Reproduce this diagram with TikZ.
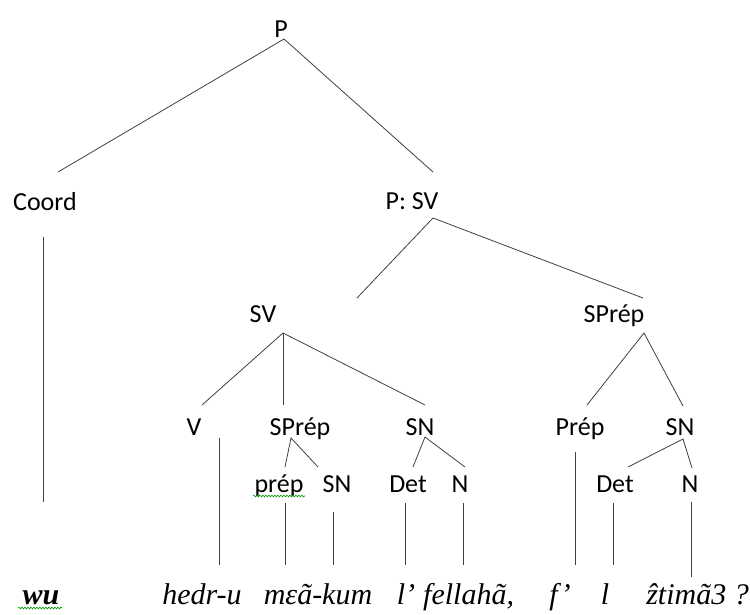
\documentclass[tikz,border=0pt]{standalone}
\usepackage{fontspec}
\usetikzlibrary{decorations.pathmorphing}
\newfontfamily\labfont{Carlito}
\newfontfamily\wordfont{Liberation Serif}
\tikzset{
  cat/.style={inner sep=0pt,anchor=base,font=\labfont\fontsize{26}{26}\selectfont},
  word/.style={inner sep=0pt,anchor=base,font=\wordfont\itshape\fontsize{30}{30}\selectfont},
  branch/.style={line width=0.8pt,black!75},
  spell/.style={green!60!black,line width=0.6pt,decorate,decoration={snake,amplitude=0.9pt,segment length=3pt}}
}
\begin{document}
\begin{tikzpicture}[x=1pt,y=-1pt]
  \useasboundingbox (0,0) rectangle (750,614);
  % categories
  \node[cat] (P) at (281,37) {P};
  \node[cat] (Coord) at (45,210) {Coord};
  \node[cat] (PSV) at (412,209) {P: SV};
  \node[cat] (SV) at (263,322) {SV};
  \node[cat] (SPrep) at (614,322) {SPrép};
  \node[cat] (V) at (194,435) {V};
  \node[cat] (SPrepa) at (300,435) {SPrép};
  \node[cat] (SNa) at (420,435) {SN};
  \node[cat] (prep) at (279,492) {prép};
  \node[cat] (SNb) at (337,492) {SN};
  \node[cat] (Deta) at (408,492) {Det};
  \node[cat] (Na) at (460,492) {N};
  \node[cat] (Prepb) at (580,435) {Prép};
  \node[cat] (SNc) at (680,435) {SN};
  \node[cat] (Detb) at (615,492) {Det};
  \node[cat] (Nb) at (690,492) {N};
  % words
  \node[word] (wu) at (41,604) {\bfseries wu};
  \node[word] (hedr) at (202,604) {hedr-u};
  \node[word] (mea) at (318,604) {mεã-kum};
  \node[word] (la) at (406,604) {l’};
  \node[word,anchor=base west] (fell) at (423,604) {fellahã,};
  \node[word] (fa) at (560,604) {f’};
  \node[word] (lb) at (605,604) {l};
  \node[word,anchor=base east] (ztim) at (749,604) {\^{z}timã3 ?};
  % branch ends
  \coordinate (P-d) at (284,39);
  \coordinate (Coord-u) at (58,172);
  \coordinate (PSV-u) at (433,172);
  \coordinate (Coord-d) at (43,237);
  \coordinate (wu-u) at (43,502);
  \coordinate (PSV-d) at (433,218);
  \coordinate (SV-u) at (357,298);
  \coordinate (SPrep-u) at (643,298);
  \coordinate (SV-d) at (283,333);
  \coordinate (V-u) at (202,405);
  \coordinate (SPrepa-u) at (283,405);
  \coordinate (SNa-u) at (425,405);
  \coordinate (V-d) at (219,438);
  \coordinate (hedr-u) at (219,565);
  \coordinate (SPrepa-d) at (291,438);
  \coordinate (prep-u) at (285,467);
  \coordinate (SNb-u) at (318,467);
  \coordinate (prep-d) at (285,503);
  \coordinate (mea-u) at (285,565);
  \coordinate (SNb-d) at (333,512);
  \coordinate (kum-u) at (333,565);
  \coordinate (SNa-d) at (425,437);
  \coordinate (Deta-u) at (413,467);
  \coordinate (Na-u) at (465,467);
  \coordinate (Deta-d) at (405,503);
  \coordinate (la-u) at (405,565);
  \coordinate (Na-d) at (463,503);
  \coordinate (fell-u) at (463,565);
  \coordinate (SPrep-d) at (644,333);
  \coordinate (Prepb-u) at (587,405);
  \coordinate (SNc-u) at (683,406);
  \coordinate (Prepb-d) at (575,452);
  \coordinate (fa-u) at (575,565);
  \coordinate (SNc-d) at (683,439);
  \coordinate (Detb-u) at (628,467);
  \coordinate (Nb-u) at (692,468);
  \coordinate (Detb-d) at (613,503);
  \coordinate (lb-u) at (613,565);
  \coordinate (Nb-d) at (691,502);
  \coordinate (ztim-u) at (691,577);
  % branches
  \draw[branch] (Coord-u) -- (P-d) -- (PSV-u);
  \draw[branch] (Coord-d) -- (wu-u);
  \draw[branch] (SV-u) -- (PSV-d) -- (SPrep-u);
  \draw[branch] (V-u) -- (SV-d) -- (SNa-u);
  \draw[branch] (SV-d) -- (SPrepa-u);
  \draw[branch] (V-d) -- (hedr-u);
  \draw[branch] (prep-u) -- (SPrepa-d) -- (SNb-u);
  \draw[branch] (prep-d) -- (mea-u);
  \draw[branch] (SNb-d) -- (kum-u);
  \draw[branch] (Deta-u) -- (SNa-d) -- (Na-u);
  \draw[branch] (Deta-d) -- (la-u);
  \draw[branch] (Na-d) -- (fell-u);
  \draw[branch] (Prepb-u) -- (SPrep-d) -- (SNc-u);
  \draw[branch] (Prepb-d) -- (fa-u);
  \draw[branch] (Detb-u) -- (SNc-d) -- (Nb-u);
  \draw[branch] (Detb-d) -- (lb-u);
  \draw[branch] (Nb-d) -- (ztim-u);
  % spelling marks
  \draw[spell] (18,608) -- (62,608);
  \draw[spell] (253,496) -- (305,496);
\end{tikzpicture}
\end{document}
